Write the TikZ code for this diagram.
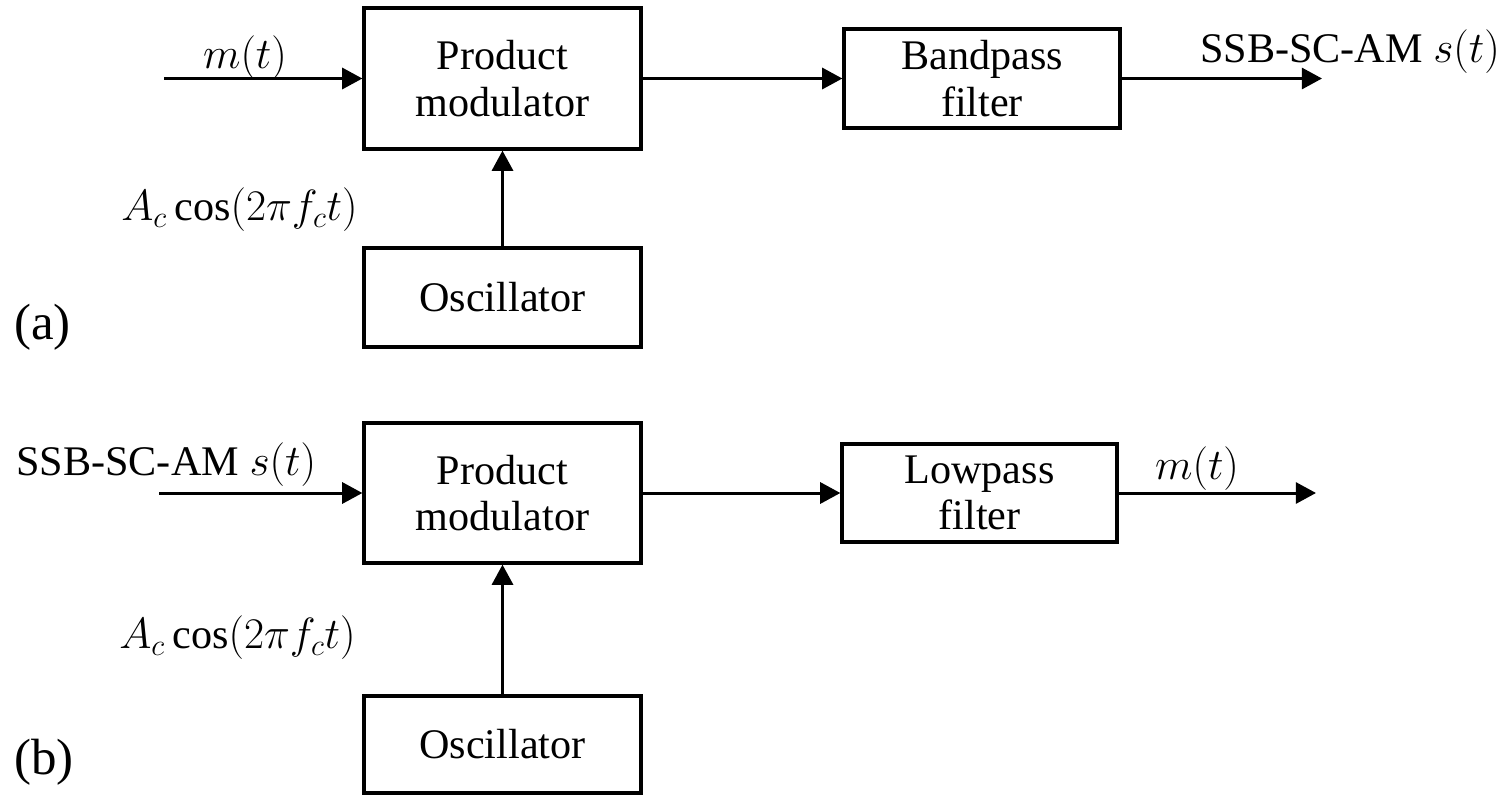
\documentclass[tikz,border=0pt]{standalone}
\usepackage{fontspec}
\setmainfont{Liberation Serif}
\usetikzlibrary{arrows.meta}
\begin{document}
\begin{tikzpicture}[x=0.02cm,y=-0.02cm,
  blk/.style={draw=black, line width=1.9pt, inner sep=0pt, align=center, font=\fontsize{24}{26.5}\selectfont},
  lbl/.style={inner sep=0pt, font=\fontsize{24}{26}\selectfont},
  part/.style={inner sep=0pt, font=\fontsize{29}{30}\selectfont},
  conn/.style={line width=1.7pt, -{Triangle[length=11.5pt,width=12pt]}}]
\useasboundingbox (0,0) rectangle (1509,795);
% (a)
\node[blk, minimum width=5.54cm, minimum height=2.82cm] (pma) at (502.5,78.5) {Product\\modulator};
\node[blk, minimum width=5.52cm, minimum height=1.98cm] (bpf) at (982,78.5) {Bandpass\\filter};
\node[blk, minimum width=5.54cm, minimum height=1.98cm] (osca) at (502.5,297.5) {Oscillator};
\coordinate (ina) at (164,78.5);
\coordinate (outa) at (1322,78.5);
\draw[conn] (ina) -- (pma.west);
\draw[conn] (pma.east) -- (bpf.west);
\draw[conn] (bpf.east) -- (outa);
\draw[conn] (osca.north) -- (pma.south);
\node[lbl] (ma) at (245,58) {$m(t)$};
\node[lbl, anchor=east] (aca) at (358,210) {$A_c\cos(2\pi f_c t)$};
\node[lbl] (ssba) at (1350,52) {SSB-SC-AM $s(t)$};
\node[part, anchor=west] (laba) at (14,327) {(a)};
% (b)
\node[blk, minimum width=5.54cm, minimum height=2.80cm] (pmb) at (502.5,493) {Product\\modulator};
\node[blk, minimum width=5.50cm, minimum height=1.96cm] (lpf) at (979.5,493) {Lowpass\\filter};
\node[blk, minimum width=5.54cm, minimum height=1.94cm] (oscb) at (502.5,744.5) {Oscillator};
\coordinate (inb) at (159,493);
\coordinate (outb) at (1316,493);
\draw[conn] (inb) -- (pmb.west);
\draw[conn] (pmb.east) -- (lpf.west);
\draw[conn] (lpf.east) -- (outb);
\draw[conn] (oscb.north) -- (pmb.south);
\node[lbl, anchor=west] (ssbb) at (16,465) {SSB-SC-AM $s(t)$};
\node[lbl, anchor=east] (acb) at (356,638) {$A_c\cos(2\pi f_c t)$};
\node[lbl] (mb) at (1197,469) {$m(t)$};
\node[part, anchor=west] (labb) at (14,762) {(b)};
\end{tikzpicture}
\end{document}
